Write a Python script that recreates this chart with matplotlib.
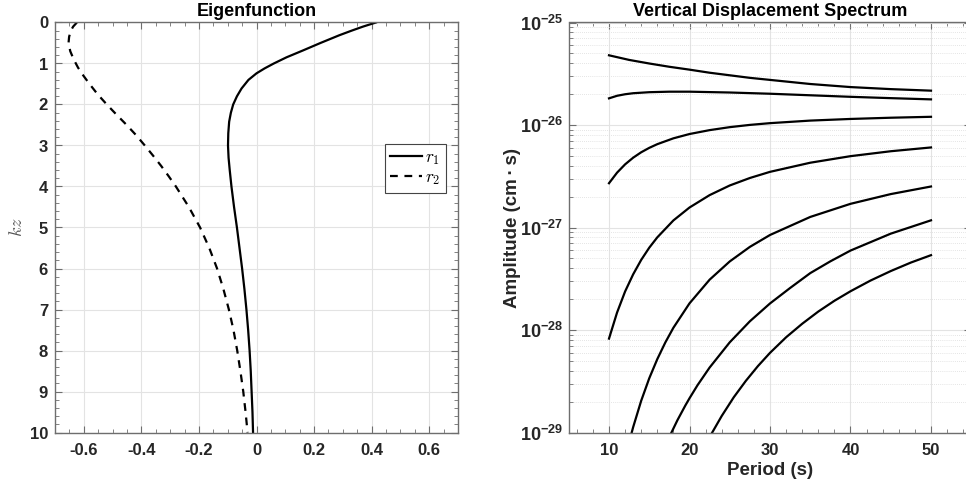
import matplotlib
matplotlib.use("Agg")
import matplotlib.pyplot as plt
import numpy as np
from matplotlib.ticker import MultipleLocator, FixedLocator, LogLocator, NullFormatter, FuncFormatter
from matplotlib.font_manager import FontProperties

# ---------------- data ----------------
kz_r1 = [0.0, 0.1, 0.2, 0.31, 0.5, 0.68, 0.85, 1.0, 1.12, 1.24, 1.4, 1.61, 1.8, 2.0, 2.2,
         2.42, 2.7, 3.0, 3.3, 3.6, 4.0, 4.5, 5.0, 5.5, 6.0, 6.5, 7.0, 7.5, 8.0, 8.5, 9.0,
         9.5, 10.0]
r1 = [0.415, 0.37, 0.33, 0.288, 0.222, 0.162, 0.104, 0.060, 0.028, 0.0, -0.028, -0.052,
      -0.068, -0.081, -0.089, -0.095, -0.098, -0.099, -0.097, -0.093, -0.087, -0.078,
      -0.068, -0.059, -0.050, -0.042, -0.035, -0.029, -0.024, -0.020, -0.017, -0.014,
      -0.012]

kz_r2 = [0.0, 0.1, 0.2, 0.35, 0.5, 0.7, 0.9, 1.1, 1.3, 1.5, 1.75, 2.0, 2.25, 2.5, 2.75,
         3.0, 3.25, 3.5, 3.75, 4.0, 4.5, 5.0, 5.5, 6.0, 6.5, 7.0, 7.5, 8.0, 8.5, 9.0, 9.5,
         10.0]
r2 = [-0.624, -0.637, -0.645, -0.651, -0.653, -0.647, -0.635, -0.620, -0.601, -0.580,
      -0.552, -0.520, -0.486, -0.451, -0.418, -0.388, -0.359, -0.331, -0.305, -0.280,
      -0.235, -0.196, -0.164, -0.137, -0.115, -0.096, -0.080, -0.067, -0.056, -0.046,
      -0.038, -0.031]

period_1 = [10, 12.5, 15, 17.5, 20, 22.5, 25, 27.5, 30, 35, 40, 45, 50]
logamp_1 = [-25.32, -25.365, -25.40, -25.432, -25.46, -25.49, -25.515, -25.54, -25.56,
            -25.60, -25.63, -25.65, -25.665]

period_2 = [10, 11, 12, 13, 15, 17.5, 20, 25, 30, 35, 40, 45, 50]
logamp_2 = [-25.74, -25.715, -25.70, -25.69, -25.68, -25.675, -25.675, -25.683, -25.695,
            -25.71, -25.725, -25.738, -25.75]

period_3 = [10, 11, 12, 13, 14, 15, 16, 18, 20, 22.5, 25, 27.5, 30, 35, 40, 45, 50]
logamp_3 = [-26.568, -26.465, -26.384, -26.319, -26.266, -26.223, -26.187, -26.130, -26.088,
            -26.050, -26.021, -25.999, -25.982, -25.957, -25.941, -25.929, -25.920]

period_4 = [10, 11, 12, 13, 14, 15, 16, 18, 20, 22.5, 25, 27.5, 30, 35, 40, 45, 50]
logamp_4 = [-28.084, -27.830, -27.624, -27.457, -27.316, -27.197, -27.096, -26.931, -26.805,
            -26.684, -26.590, -26.517, -26.457, -26.368, -26.304, -26.256, -26.219]

period_5 = [12, 12.5, 13, 14, 15, 16, 17, 18, 20, 22.5, 25, 27.5, 30, 35, 40, 45, 50]
logamp_5 = [-29.254, -29.094, -28.948, -28.690, -28.471, -28.284, -28.121, -27.978, -27.740,
            -27.509, -27.331, -27.189, -27.073, -26.897, -26.769, -26.674, -26.600]

period_6 = [17, 17.7, 18.5, 19.5, 20, 21, 22.5, 25, 27.5, 30, 32.5, 35, 37.5, 40, 45, 50]
logamp_6 = [-29.129, -29.010, -28.880, -28.734, -28.666, -28.538, -28.366, -28.120, -27.915,
            -27.741, -27.590, -27.445, -27.330, -27.225, -27.060, -26.930]

period_7 = [22, 22.75, 24, 25.5, 27, 28.5, 30, 32, 34, 36, 38, 40, 42.5, 45, 47.5, 50]
logamp_7 = [-29.124, -29.010, -28.839, -28.656, -28.496, -28.352, -28.223, -28.071, -27.939,
            -27.820, -27.715, -27.622, -27.517, -27.425, -27.342, -27.270]

spectra = [(period_1, logamp_1), (period_2, logamp_2), (period_3, logamp_3),
           (period_4, logamp_4), (period_5, logamp_5), (period_6, logamp_6),
           (period_7, logamp_7)]

left_xticks = [-0.6, -0.4, -0.2, 0, 0.2, 0.4, 0.6]
left_yticks = list(range(0, 11))
right_xticks = [10, 20, 30, 40, 50]
right_yticks = [1e-29, 1e-28, 1e-27, 1e-26, 1e-25]

# ---------------- style ----------------
plt.rcParams['font.family'] = ['Liberation Sans', 'DejaVu Sans']
plt.rcParams['font.weight'] = 'bold'
plt.rcParams['mathtext.fontset'] = 'custom'
plt.rcParams['mathtext.rm'] = 'Liberation Sans:bold'
plt.rcParams['mathtext.it'] = 'Liberation Sans:bold:italic'
plt.rcParams['mathtext.bf'] = 'Liberation Sans:bold'
plt.rcParams['axes.unicode_minus'] = False

TXT = '#262626'
SPINE = '#6e6e6e'
GRID = '#e3e3e3'

fig = plt.figure(figsize=(9.66, 4.90), dpi=100)
ax1 = fig.add_axes([55 / 966, (490 - 432.5) / 490, 403 / 966, 410 / 490])
ax2 = fig.add_axes([568.75 / 966, (490 - 432.5) / 490, 402.5 / 966, 410 / 490])


def style(ax):
    for s in ax.spines.values():
        s.set_color(SPINE)
        s.set_linewidth(1.0)
    ax.tick_params(which='both', direction='in', top=True, right=True,
                   colors=SPINE, labelcolor=TXT, labelsize=12)
    ax.tick_params(which='major', length=5, width=0.8)
    ax.tick_params(which='minor', length=3, width=0.6)
    ax.tick_params(axis='x', which='major', pad=7.5)
    ax.tick_params(axis='y', which='major', pad=5)
    for lab in ax.get_xticklabels() + ax.get_yticklabels():
        lab.set_fontweight('bold')


# ---------------- left: eigenfunction ----------------
ax1.plot(r1, kz_r1, color='black', lw=1.6, label='$r_1$')
ax1.plot(r2, kz_r2, color='black', lw=1.6, linestyle=(0, (3.5, 3.0)), label='$r_2$')
ax1.set_xlim(-0.7, 0.7)
ax1.set_ylim(10, 0)
ax1.xaxis.set_major_locator(FixedLocator(left_xticks))
ax1.yaxis.set_major_locator(FixedLocator(left_yticks))
ax1.xaxis.set_major_formatter(FuncFormatter(lambda v, p: '0' if abs(v) < 1e-9 else f'{v:.1f}'))
ax1.xaxis.set_minor_locator(MultipleLocator(0.05))
ax1.yaxis.set_minor_locator(MultipleLocator(0.2))
ax1.grid(True, which='major', color=GRID, lw=0.8)
ax1.set_axisbelow(True)
style(ax1)
ax1.set_title('Eigenfunction', fontsize=13, fontweight='bold', color='black', pad=5)
ax1.set_ylabel('$kz$', fontsize=13, color='#555555', math_fontfamily='cm', labelpad=3)
leg = ax1.legend(loc='center right', bbox_to_anchor=(0.970, 0.644), borderaxespad=0,
                 prop=FontProperties(size=12.5, math_fontfamily='cm'),
                 fancybox=False, framealpha=1, edgecolor='#444444',
                 handlelength=1.85, borderpad=0.3, labelspacing=0.2, handletextpad=0.2)
leg.get_frame().set_linewidth(0.8)

# ---------------- right: spectrum ----------------
for per, la in spectra:
    ax2.semilogy(per, 10.0 ** np.array(la), color='black', lw=1.6)
ax2.set_xlim(5, 55)
ax2.set_ylim(1e-29, 1e-25)
ax2.xaxis.set_major_locator(FixedLocator(right_xticks))
ax2.xaxis.set_minor_locator(MultipleLocator(2))
ax2.yaxis.set_major_locator(FixedLocator(right_yticks))
ax2.yaxis.set_minor_locator(LogLocator(base=10, subs=np.arange(2, 10), numticks=20))
ax2.yaxis.set_minor_formatter(NullFormatter())
ax2.yaxis.set_major_formatter(FuncFormatter(
    lambda v, p: r'$10^{\mathrm{-%d}}$' % abs(int(round(np.log10(v))))))
ax2.grid(True, which='major', color=GRID, lw=0.8)
ax2.grid(True, which='minor', axis='y', color='#dcdcdc', lw=0.6, linestyle=(0, (1, 1.5)))
ax2.set_axisbelow(True)
style(ax2)
ax2.tick_params(axis='y', labelsize=13, pad=4)
ax2.set_title('Vertical Displacement Spectrum', fontsize=13, fontweight='bold', color='black', pad=5)
ax2.set_xlabel('Period (s)', fontsize=13.5, fontweight='bold', color=TXT, labelpad=3)
ax2.set_ylabel('Amplitude (cm\u2009·\u2009s)', fontsize=13.5, fontweight='bold', color=TXT,
               labelpad=-1)

fig.savefig('out.png', dpi=100)
